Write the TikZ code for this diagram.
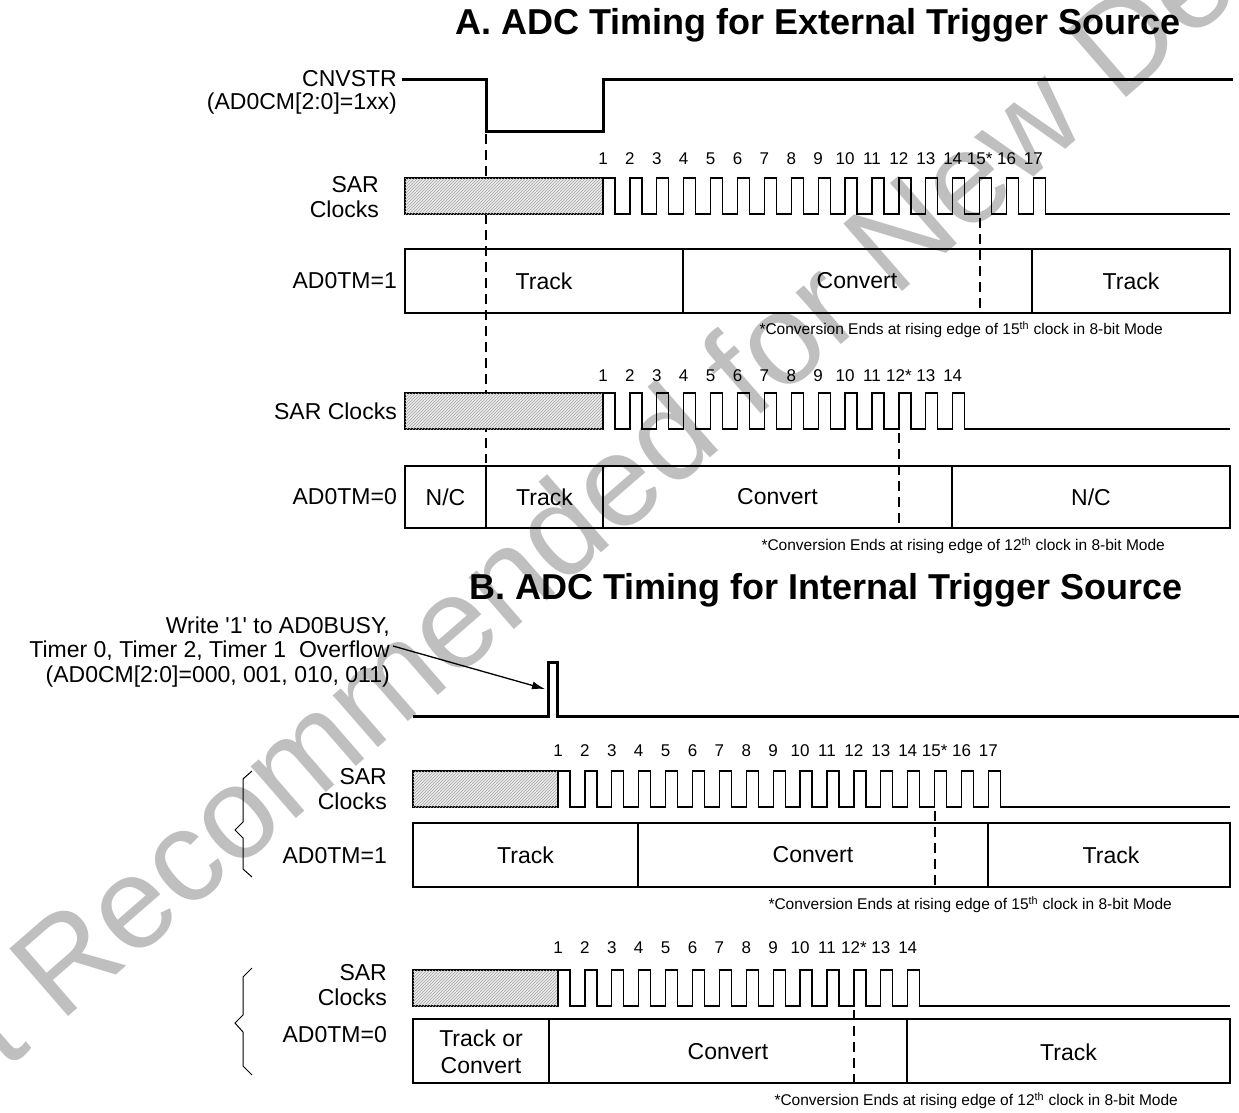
\documentclass[tikz,border=0pt]{standalone}
\usepackage{fontspec}
\setmainfont{Liberation Sans}
\usetikzlibrary{patterns,arrows.meta}
\newcommand{\sarclk}[4]{% #1 x0, #2 top y, #3 bottom y, #4 pulses
  \draw[clk] (#1,#3) \foreach \k in {1,...,#4} { -- ++(0,#2-#3) -- ++(12,0) -- ++(0,#3-#2) -- ++(14.9,0) } -- (1230,#3);}
\begin{document}
\begin{tikzpicture}[x=1pt,y=-1pt,
  lbl/.style={font=\fontsize{23}{25}\selectfont, inner sep=0pt},
  lblr/.style={lbl, anchor=east, align=right},
  num/.style={font=\fontsize{17}{20}\selectfont, inner sep=0pt},
  note/.style={font=\fontsize{15.5}{18}\selectfont, inner sep=0pt, anchor=east},
  ttl/.style={font=\bfseries\fontsize{36}{40}\selectfont, inner sep=0pt},
  wave/.style={line width=3pt},
  clk/.style={line width=1.3pt},
  vdash/.style={line width=2pt, dash pattern=on 10pt off 6pt},
  tbox/.style={line width=1.3pt},
  hatch/.style={line width=1.3pt, fill=black!8, postaction={pattern=north east lines, pattern color=black!35}},
  wmark/.style={font=\fontsize{130}{130}\selectfont, text=black!25, rotate=41, inner sep=0pt},
]
\useasboundingbox (0,0) rectangle (1239,1112);
\fill[white] (0,0) rectangle (1239,1112);
% watermark
\node[wmark] (wm) at (630,484) {Not Recommended for New Design};

% ---------------- Section A ----------------
\node[ttl] (ttlA) at (818,25) {A. ADC Timing for External Trigger Source};
\node[lblr] (cnv) at (397,79) {CNVSTR};
\node[lblr] (cnvm) at (397,104) {(AD0CM[2:0]=1xx)};
\draw[wave] (402,79) -- (486,79) -- (486,131) -- (603,131) -- (603,79) -- (1233,79);
\coordinate (dA0t) at (486,134); \coordinate (dA0b) at (486,463);
\draw[vdash] (dA0t) -- (dA0b);

% SAR clocks A1
\node[lblr] (sarA1) at (379,197) {SAR\\Clocks};
\draw[hatch] (405,178) rectangle (603,214);
\sarclk{603}{178}{214}{17}
\foreach \t [count=\k] in {1,2,3,4,5,6,7,8,9,10,11,12,13,14,15*,16,17}
  \node[num] (nA1-\k) at ({603+(\k-1)*26.9},159) {\t};
\coordinate (dA1t) at (980,218); \coordinate (dA1b) at (980,313);
\draw[vdash] (dA1t) -- (dA1b);

% AD0TM=1 A
\node[lblr] (tmA1) at (397,281) {AD0TM=1};
\draw[tbox] (405,249) rectangle (1230,313);
\draw[tbox] (683,249) -- (683,313) (1032,249) -- (1032,313);
\node[lbl] (a1t1) at (544,281) {Track};
\node[lbl] (a1c) at (857,281) {Convert};
\node[lbl] (a1t2) at (1131,281) {Track};
\node[note] (noteA1) at (1163,330) {*Conversion Ends at rising edge of 15\textsuperscript{th} clock in 8-bit Mode};

% SAR clocks A2
\node[lblr] (sarA2) at (397,411) {SAR Clocks};
\draw[hatch] (405,393) rectangle (603,429);
\sarclk{603}{393}{429}{14}
\foreach \t [count=\k] in {1,2,3,4,5,6,7,8,9,10,11,12*,13,14}
  \node[num] (nA2-\k) at ({603+(\k-1)*26.9},376) {\t};
\coordinate (dA2t) at (899,433); \coordinate (dA2b) at (899,528);
\draw[vdash] (dA2t) -- (dA2b);

% AD0TM=0 A
\node[lblr] (tmA0) at (397,497) {AD0TM=0};
\draw[tbox] (405,466) rectangle (1230,528);
\draw[tbox] (486,466) -- (486,528) (603,466) -- (603,528) (952,466) -- (952,528);
\node[lbl] (a0n1) at (445.5,497) {N/C};
\node[lbl] (a0t) at (544.5,497) {Track};
\node[lbl] (a0c) at (777.5,497) {Convert};
\node[lbl] (a0n2) at (1091,497) {N/C};
\node[note] (noteA2) at (1165,546) {*Conversion Ends at rising edge of 12\textsuperscript{th} clock in 8-bit Mode};

% ---------------- Section B ----------------
\node[ttl] (ttlB) at (826,590) {B. ADC Timing for Internal Trigger Source};
\node[lblr, font=\fontsize{23}{24.5}\selectfont] (wr) at (390,652) {Write \textquotesingle 1\textquotesingle\ to AD0BUSY,\\Timer 0, Timer 2, Timer 1\ \ Overflow\\(AD0CM[2:0]=000, 001, 010, 011)};
\coordinate (arS) at (393,646);
\coordinate (arE) at (545,689);
\draw[line width=1.3pt, -{Latex[length=13pt,width=8pt]}] (arS) -- (arE);
\draw[wave] (413,716) -- (548,716) -- (548,662) -- (557,662) -- (557,716) -- (1239,716);

% B1
\node[lblr] (sarB1) at (387,789) {SAR\\Clocks};
\draw[hatch] (413,771) rectangle (558,807);
\sarclk{558}{771}{807}{17}
\foreach \t [count=\k] in {1,2,3,4,5,6,7,8,9,10,11,12,13,14,15*,16,17}
  \node[num] (nB1-\k) at ({558+(\k-1)*26.9},751) {\t};
\coordinate (dB1t) at (934.6,811); \coordinate (dB1b) at (934.6,887);
\draw[vdash] (dB1t) -- (dB1b);
\node[lblr] (tmB1) at (387,856) {AD0TM=1};
\draw[tbox] (413,823) rectangle (1230,887);
\draw[tbox] (638,823) -- (638,887) (988,823) -- (988,887);
\node[lbl] (b1t1) at (525.5,855) {Track};
\node[lbl] (b1c) at (813,855) {Convert};
\node[lbl] (b1t2) at (1111,855) {Track};
\node[note] (noteB1) at (1172,905) {*Conversion Ends at rising edge of 15\textsuperscript{th} clock in 8-bit Mode};
\draw[line width=1pt] (252,771) -- (243,779) -- (243,822) -- (235,830) -- (243,838) -- (243,869) -- (252,877);

% B2
\node[lblr] (sarB2) at (387,985) {SAR\\Clocks};
\draw[hatch] (413,970) rectangle (558,1006);
\sarclk{558}{970}{1006}{14}
\foreach \t [count=\k] in {1,2,3,4,5,6,7,8,9,10,11,12*,13,14}
  \node[num] (nB2-\k) at ({558+(\k-1)*26.9},948) {\t};
\coordinate (dB2t) at (854,1010); \coordinate (dB2b) at (854,1083);
\draw[vdash] (dB2t) -- (dB2b);
\node[lblr] (tmB2) at (387,1035) {AD0TM=0};
\draw[tbox] (413,1019) rectangle (1230,1083);
\draw[tbox] (549,1019) -- (549,1083) (907,1019) -- (907,1083);
\node[lbl, align=center, font=\fontsize{23}{27}\selectfont] (b2tc) at (481,1052) {Track or\\Convert};
\node[lbl] (b2c) at (728,1052) {Convert};
\node[lbl] (b2t) at (1068.5,1052) {Track};
\node[note] (noteB2) at (1178,1101) {*Conversion Ends at rising edge of 12\textsuperscript{th} clock in 8-bit Mode};
\draw[line width=1pt] (252,968) -- (243,977) -- (243,1015) -- (235,1023) -- (243,1032) -- (243,1066) -- (252,1075);
\end{tikzpicture}
\end{document}
